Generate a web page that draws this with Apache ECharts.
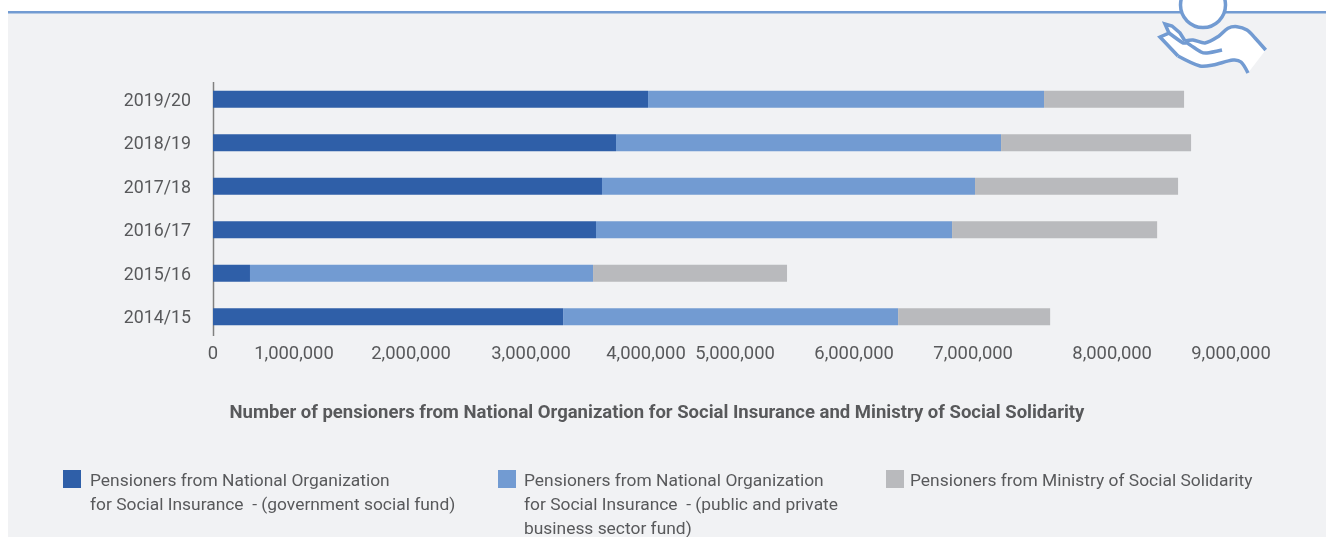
<!DOCTYPE html>
<html><head><meta charset="utf-8">
<style>html,body{margin:0;padding:0;background:#fff}#c{width:1326px;height:537px}</style>
<script src="https://cdn.jsdelivr.net/npm/echarts@6/dist/echarts.min.js"></script>
</head><body><div id="c"></div>
<script>
const categories = ['2014/15','2015/16','2016/17','2017/18','2018/19','2019/20'];
const governmentFund = [3095000,327000,3386000,3439000,3563000,3846000];
const businessFund = [2962000,3033000,3148000,3298000,3404000,3501000];
const solidarity = [1344000,1715000,1813000,1795000,1680000,1238000];
const tickLabels = ['0','1,000,000','2,000,000','3,000,000','4,000,000','5,000,000','6,000,000','7,000,000','8,000,000','9,000,000'];
const tickLabelAnchors = [0,716000,1751000,2812000,3828000,4615000,5668000,6720000,7949000,9000000];
const names = ['Pensioners from National Organization\nfor Social Insurance  - (government social fund)',
 'Pensioners from National Organization\nfor Social Insurance  - (public and private\nbusiness sector fund)',
 'Pensioners from Ministry of Social Solidarity'];
const colors = ['#2f5fa8','#729bd2','#b9babd'];
const ink = '#58595b', font = 'Roboto', accent = '#729bd2';
// The legend centres its text on the marker; blank leading lines keep line one beside the marker.
const lt = (name,left,top,blank,gap) => ({show:true,data:[name],left,top,orient:'vertical',selectedMode:false,
  itemWidth:18,itemHeight:24,itemGap:0,padding:0,icon:'path://M0 0H18V18H0Z M0 24H0Z',
  formatter:n=>' \n'.repeat(blank)+n,
  textStyle:{fontFamily:font,fontSize:17.4,color:ink,lineHeight:24,padding:[0,0,0,gap]}});
const bar = (name,data,i) => ({name,type:'bar',stack:'t',data,barWidth:17,itemStyle:{color:colors[i]},silent:true,animation:false});
const stroke = (points,smooth) => ({type:'polyline',z:-7,silent:true,shape:{points,smooth},style:{fill:'none',stroke:accent,lineWidth:3.5,lineJoin:'miter'}});
const handTop = [[1265.7,50],[1255,38],[1247,30],[1237,26.7],[1228,28.3],[1218,36.7],[1205,43],[1193,40],[1185,41]];
const handTip = [[1185,41],[1180,33],[1172,26],[1165,24],[1169,33],[1160,37],[1178,56]];
const handBottom = [[1178,56],[1200,66],[1213,65],[1233,60],[1241,62],[1248,73]];
const handInner = [[1169,33],[1183,43],[1187,43],[1201,52],[1207,53],[1222,50]];
const chart = echarts.init(document.getElementById('c'),null,{renderer:'canvas'});
chart.setOption({
  animation:false,
  backgroundColor:'#fff',
  grid:{left:213,width:1018,top:77.5,height:261,containLabel:false},
  title:{text:'Number of pensioners from National Organization for Social Insurance and Ministry of Social Solidarity',
    left:657,top:402,textAlign:'center',padding:0,
    textStyle:{fontFamily:font,fontSize:18.5,fontWeight:'bold',color:ink,lineHeight:22}},
  legend:[lt(names[0],63,446,1,4),lt(names[1],498,422,2,3),lt(names[2],886,470,0,1)],
  xAxis:{type:'value',min:0,max:9000000,interval:1000000,
    axisLine:{show:false},axisTick:{show:false},splitLine:{show:false},
    axisLabel:{customValues:tickLabelAnchors,formatter:(v,i)=>tickLabels[tickLabelAnchors.indexOf(v)],
      fontFamily:font,fontSize:18.4,color:ink,margin:7}},
  yAxis:{type:'category',data:categories,
    axisLine:{show:false},axisTick:{show:false},
    axisLabel:{fontFamily:font,fontSize:17.8,color:ink,margin:22,verticalAlign:'top',lineHeight:4}},
  series:[bar(names[0],governmentFund,0),bar(names[1],businessFund,1),bar(names[2],solidarity,2)],
  graphic:[
    {type:'rect',z:-10,silent:true,shape:{x:8,y:12,width:1318,height:525},style:{fill:'#f1f2f4'}},
    {type:'rect',z:-9,silent:true,shape:{x:8,y:11,width:1318,height:2.5},style:{fill:accent}},
    {type:'line',z:1,silent:true,shape:{x1:213.5,y1:82,x2:213.5,y2:336},style:{stroke:'#808080',lineWidth:1.5}},
    {type:'circle',z:-8,silent:true,shape:{cx:1203,cy:5,r:22.5},style:{fill:'#fff',stroke:accent,lineWidth:3.5}},
    {type:'polygon',z:-8,silent:true,shape:{points:[...handTop,...handTip,...handBottom]},style:{fill:'#fff'}},
    stroke(handTop,0.3),stroke(handTip,0),stroke(handBottom,0.3),stroke(handInner,0.2)
  ]
});
</script></body></html>
